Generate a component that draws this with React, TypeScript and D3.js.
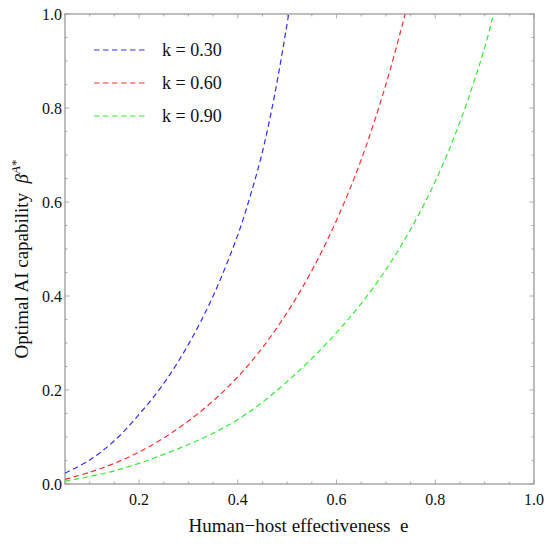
import React, { useEffect, useRef } from 'react';
import * as d3 from 'd3';

// values: human-host effectiveness e -> optimal AI capability
const eK030 = [0.05, 0.10, 0.15, 0.20, 0.25, 0.30, 0.35, 0.40, 0.425, 0.45, 0.475, 0.50, 0.503];
const betaK030 = [0.023, 0.051, 0.092, 0.148, 0.214, 0.297, 0.400, 0.530, 0.612, 0.707, 0.830, 0.980, 1.0];

const eK060 = [0.05, 0.10, 0.15, 0.20, 0.25, 0.30, 0.35, 0.40, 0.45, 0.50, 0.55, 0.60, 0.65, 0.70, 0.739];
const betaK060 = [0.010, 0.025, 0.044, 0.068, 0.098, 0.134, 0.177, 0.228, 0.290, 0.365, 0.454, 0.561, 0.690, 0.850, 1.0];

const eK090 = [0.05, 0.10, 0.15, 0.20, 0.25, 0.30, 0.35, 0.40, 0.45, 0.50, 0.55, 0.60, 0.65, 0.70, 0.75, 0.80, 0.85, 0.90, 0.918];
const betaK090 = [0.006, 0.016, 0.028, 0.044, 0.063, 0.084, 0.108, 0.137, 0.174, 0.218, 0.267, 0.322, 0.384, 0.456, 0.542, 0.644, 0.770, 0.928, 1.0];

const legendLabels = ['k = 0.30', 'k = 0.60', 'k = 0.90'];
const seriesColors = ['#2f2fff', '#ff3030', '#30f030'];

const xMajor = [0.2, 0.4, 0.6, 0.8, 1.0];
const yMajor = [0.0, 0.2, 0.4, 0.6, 0.8, 1.0];

const FONT = '"Liberation Serif", "Times New Roman", serif';

export default function App() {
  const svgRef = useRef<SVGSVGElement>(null);

  useEffect(() => {
    if (!svgRef.current) return;
    const svg = d3.select(svgRef.current);
    svg.selectAll('*').remove();

    const margin = { top: 14, right: 16, bottom: 60, left: 65 };
    const W = 550, H = 544;
    const width = W - margin.left - margin.right;
    const height = H - margin.top - margin.bottom;

    const x = d3.scaleLinear().domain([0.05, 1.0]).range([0, width]);
    const y = d3.scaleLinear().domain([0, 1]).range([height, 0]);

    const g = svg.append('g').attr('transform', `translate(${margin.left},${margin.top})`);

    g.append('defs').append('clipPath').attr('id', 'plot-clip')
      .append('rect').attr('width', width).attr('height', height);

    // ticks on all four sides, pointing inward
    const frame = '#9a9a9a';
    const minorX = d3.range(1, 20).map(i => i * 0.05).filter(v => !xMajor.some(m => Math.abs(m - v) < 1e-6));
    const minorY = d3.range(1, 20).map(i => i * 0.05).filter(v => !yMajor.some(m => Math.abs(m - v) < 1e-6));

    const tickG = g.append('g').attr('stroke', frame).attr('stroke-width', 0.8);
    const addX = (vals: number[], len: number) => vals.forEach(v => {
      tickG.append('line').attr('x1', x(v)).attr('x2', x(v)).attr('y1', height).attr('y2', height - len);
      tickG.append('line').attr('x1', x(v)).attr('x2', x(v)).attr('y1', 0).attr('y2', len);
    });
    const addY = (vals: number[], len: number) => vals.forEach(v => {
      tickG.append('line').attr('y1', y(v)).attr('y2', y(v)).attr('x1', 0).attr('x2', len);
      tickG.append('line').attr('y1', y(v)).attr('y2', y(v)).attr('x1', width).attr('x2', width - len);
    });
    addX(xMajor, 4.5);
    addX(minorX, 2.5);
    addY(yMajor, 4.5);
    addY(minorY, 2.5);

    g.append('rect')
      .attr('width', width).attr('height', height)
      .attr('fill', 'none').attr('stroke', frame).attr('stroke-width', 1.3);

    // tick labels
    g.append('g').selectAll('text').data(xMajor).join('text')
      .attr('x', d => x(d)).attr('y', height + 21)
      .attr('text-anchor', 'middle')
      .attr('font-family', FONT).attr('font-size', 16).attr('fill', '#111')
      .text(d => d.toFixed(1));

    g.append('g').selectAll('text').data(yMajor).join('text')
      .attr('x', -3).attr('y', d => y(d)).attr('dy', '0.35em')
      .attr('text-anchor', 'end')
      .attr('font-family', FONT).attr('font-size', 16).attr('fill', '#111')
      .text(d => d.toFixed(1));

    // curves
    const series = [
      { e: eK030, b: betaK030 },
      { e: eK060, b: betaK060 },
      { e: eK090, b: betaK090 },
    ];
    const line = d3.line<[number, number]>()
      .x(d => x(d[0])).y(d => y(d[1]))
      .curve(d3.curveCatmullRom.alpha(0.5));

    const curves = g.append('g').attr('clip-path', 'url(#plot-clip)');
    series.forEach((s, i) => {
      const pts = s.e.map((e, j) => [e, s.b[j]] as [number, number]);
      curves.append('path')
        .attr('d', line(pts)!)
        .attr('fill', 'none')
        .attr('stroke', seriesColors[i])
        .attr('stroke-width', 1.2)
        .attr('stroke-dasharray', '5.5 3.5');
    });

    // legend
    const legend = g.append('g').attr('transform', 'translate(29,36)');
    legendLabels.forEach((lab, i) => {
      const ly = i * 33;
      legend.append('line')
        .attr('x1', 0).attr('x2', 54).attr('y1', ly).attr('y2', ly)
        .attr('stroke', seriesColors[i]).attr('stroke-width', 1.2)
        .attr('stroke-dasharray', '5.5 3.5');
      legend.append('text')
        .attr('x', 68).attr('y', ly).attr('dy', '0.35em')
        .attr('font-family', FONT).attr('font-size', 18).attr('fill', '#111')
        .text(lab);
    });

    // axis titles
    svg.append('text')
      .attr('x', margin.left + width / 2 - 1).attr('y', 532)
      .attr('text-anchor', 'middle')
      .attr('font-family', FONT).attr('font-size', 19).attr('fill', '#111')
      .style('white-space', 'pre')
      .text('Human\u2212host effectiveness  e');

    const yt = svg.append('text')
      .attr('transform', `translate(28,259) rotate(-90)`)
      .attr('text-anchor', 'middle')
      .attr('font-family', FONT).attr('font-size', 19).attr('fill', '#111')
      .style('white-space', 'pre');
    yt.append('tspan').text('Optimal AI capability  ');
    yt.append('tspan').attr('font-style', 'italic').text('\u03B2');
    yt.append('tspan').attr('font-style', 'italic').attr('font-size', 13).attr('dy', -8).text('A');
    yt.append('tspan').attr('font-size', 13).text('*');
  }, []);

  return (
    <svg
      ref={svgRef}
      width={550}
      height={544}
      style={{ position: 'absolute', left: 0, top: 0, background: '#fff' }}
    />
  );
}
